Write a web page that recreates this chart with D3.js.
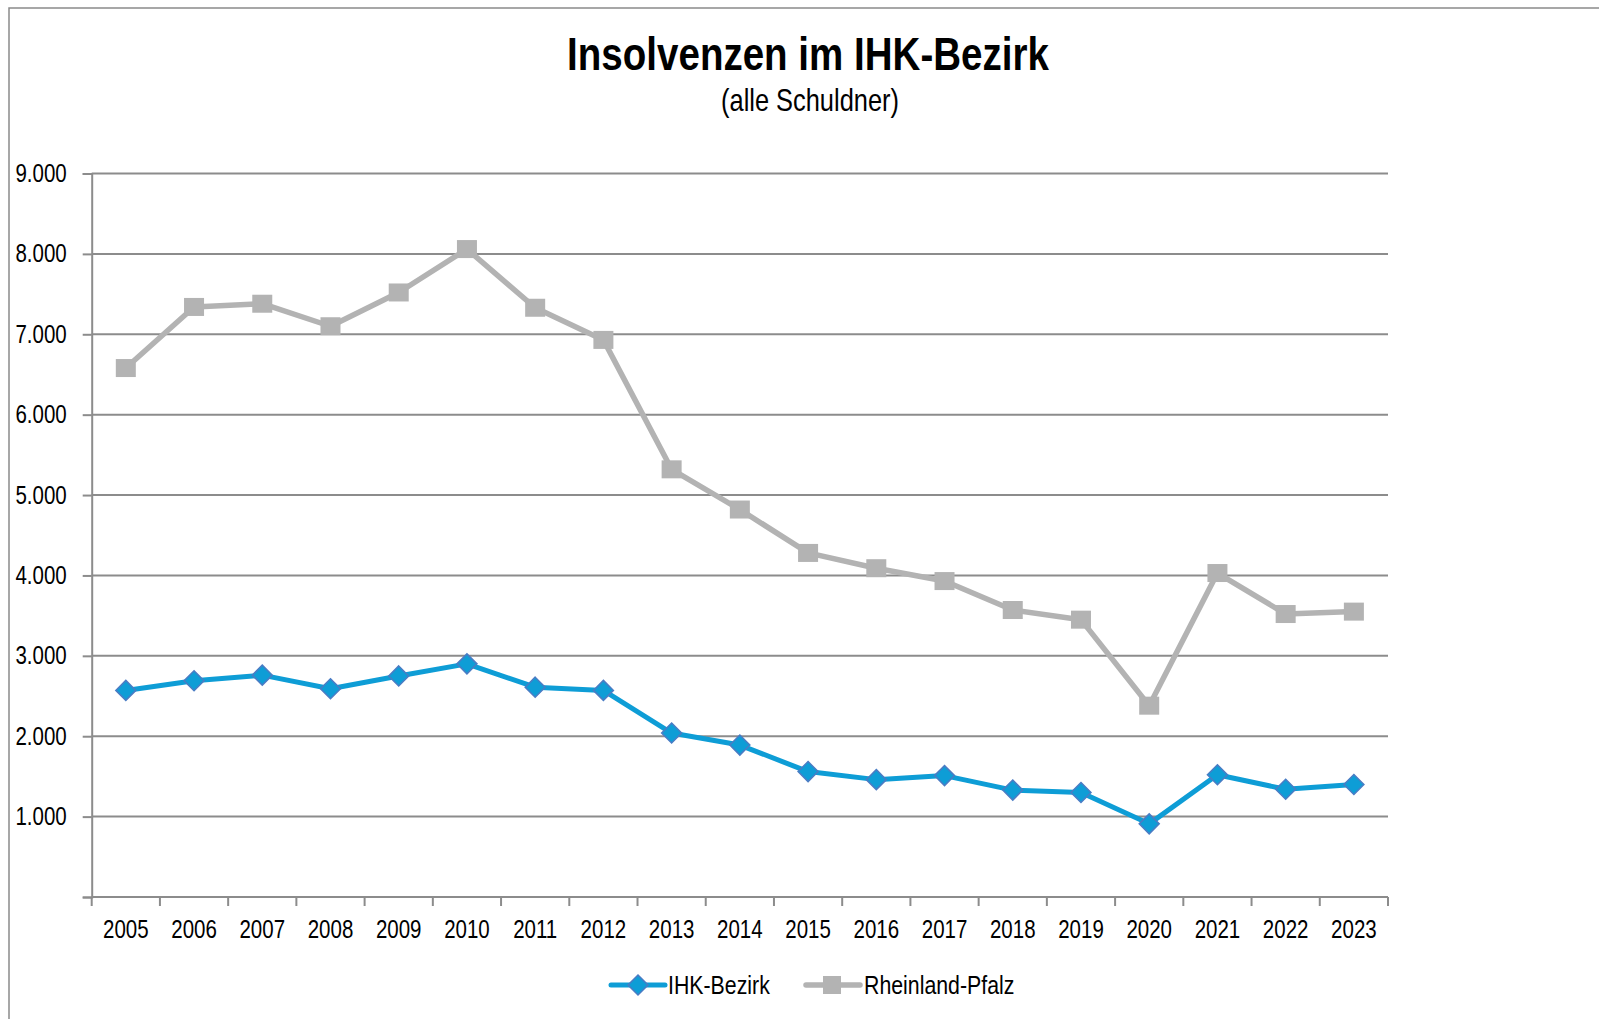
<!DOCTYPE html>
<html>
<head>
<meta charset="utf-8">
<script src="https://cdn.jsdelivr.net/npm/d3@7"></script>
<style>
  html, body { margin: 0; padding: 0; background: #fff; }
  svg { display: block; }
  text { font-family: 'Liberation Sans', Arial, sans-serif; fill: #000; }
</style>
</head>
<body>
<svg id="chart" width="1599" height="1019"></svg>
<script>
const years = ["2005","2006","2007","2008","2009","2010","2011","2012","2013","2014","2015","2016","2017","2018","2019","2020","2021","2022","2023"];
const ihkBezirk = [2570, 2690, 2760, 2590, 2750, 2900, 2610, 2570, 2040, 1890, 1560, 1460, 1510, 1330, 1300, 910, 1520, 1340, 1400];
const rheinlandPfalz = [6580, 7340, 7380, 7100, 7520, 8060, 7330, 6930, 5320, 4820, 4280, 4090, 3930, 3570, 3450, 2380, 4030, 3520, 3550];
const yTicks = [0, 1000, 2000, 3000, 4000, 5000, 6000, 7000, 8000, 9000];
const seriesNames = ["IHK-Bezirk", "Rheinland-Pfalz"];
const titleText = "Insolvenzen im IHK-Bezirk";
const subtitleText = "(alle Schuldner)";

const svg = d3.select("#chart");
const pLeft = 91.7, pRight = 1388, pTop = 173.5, pBottom = 897;
const NX = 0.82; // narrow (condensed) horizontal factor

const x = d3.scaleBand().domain(years).range([pLeft, pRight]).paddingInner(0).paddingOuter(0);
const y = d3.scaleLinear().domain([0, 9000]).range([pBottom, pTop]);

// place a text element at (px,py) and condense it horizontally
function place(sel, px, py) {
  return sel.attr("x", 0).attr("y", 0).attr("transform", `translate(${px},${py}) scale(${NX},1)`);
}

// outer frame
svg.append("path").attr("d", `M9,1019 V8 H1599`).attr("fill", "none").attr("stroke", "#8a8a8a").attr("stroke-width", 1.5);

// title
place(svg.append("text"), 808, 69.5).attr("text-anchor", "middle")
  .attr("font-size", 47).attr("font-weight", "bold").text(titleText);
place(svg.append("text"), 810, 111).attr("text-anchor", "middle")
  .attr("font-size", 31).text(subtitleText);

// gridlines
const fmt = v => v === 0 ? "" : d3.format(",")(v).replace(/,/g, ".");
svg.append("g").selectAll("line").data(yTicks.filter(d => d > 0)).join("line")
  .attr("x1", pLeft).attr("x2", pRight).attr("y1", d => y(d)).attr("y2", d => y(d))
  .attr("stroke", "#8c8c8c").attr("stroke-width", 2);

// y axis
const yAxis = d3.axisLeft(y).tickValues(yTicks).tickSize(9).tickPadding(16).tickFormat(fmt);
const gy = svg.append("g").attr("transform", `translate(${pLeft},0)`).call(yAxis);
gy.select(".domain").attr("stroke", "#8c8c8c").attr("stroke-width", 2);
gy.selectAll(".tick line").attr("stroke", "#8c8c8c").attr("stroke-width", 2);
gy.selectAll(".tick text").attr("font-size", 25).attr("fill", "#000")
  .attr("font-family", "'Liberation Sans', Arial, sans-serif")
  .each(function () {
    const xx = +this.getAttribute("x");
    d3.select(this).attr("x", 0).attr("transform", `translate(${xx},0) scale(${NX},1)`);
  });

// x axis (ticks at band boundaries)
const gx = svg.append("g").attr("transform", `translate(0,${pBottom})`);
gx.append("line").attr("x1", pLeft).attr("x2", pRight).attr("y1", 0).attr("y2", 0)
  .attr("stroke", "#8c8c8c").attr("stroke-width", 2);
const edges = years.map(d => x(d)).concat([x(years[years.length-1]) + x.bandwidth()]);
gx.selectAll("line.tk").data(edges).join("line").attr("class", "tk")
  .attr("x1", d => d).attr("x2", d => d).attr("y1", 0).attr("y2", 9)
  .attr("stroke", "#8c8c8c").attr("stroke-width", 2);
gx.selectAll("text").data(years).join("text")
  .attr("transform", d => `translate(${x(d) + x.bandwidth() / 2},41) scale(${NX},1)`)
  .attr("text-anchor", "middle").attr("font-size", 25).text(d => d);

const cx = d => x(d) + x.bandwidth() / 2;
const line = d3.line().x((d, i) => cx(years[i])).y(d => y(d));

// Rheinland-Pfalz series
const grayC = "#b3b3b3";
svg.append("path").datum(rheinlandPfalz).attr("d", line).attr("fill", "none")
  .attr("stroke", grayC).attr("stroke-width", 5.5).attr("stroke-linejoin", "round");
svg.append("g").selectAll("rect").data(rheinlandPfalz).join("rect")
  .attr("x", (d, i) => cx(years[i]) - 10).attr("y", d => y(d) - 9)
  .attr("width", 20).attr("height", 18).attr("fill", grayC);

// IHK-Bezirk series
const blueC = "#0e9dd6";
const diamond = (px, py) => `M${px},${py-10} L${px+10},${py} L${px},${py+10} L${px-10},${py} Z`;
svg.append("path").datum(ihkBezirk).attr("d", line).attr("fill", "none")
  .attr("stroke", blueC).attr("stroke-width", 5).attr("stroke-linejoin", "round");
svg.append("g").selectAll("path").data(ihkBezirk).join("path")
  .attr("d", (d, i) => diamond(cx(years[i]), y(d)))
  .attr("fill", blueC).attr("stroke", "#4a7cc4").attr("stroke-width", 1.5);

// legend
const ly = 985;
const lg = svg.append("g");
lg.append("line").attr("x1", 611).attr("x2", 665).attr("y1", ly).attr("y2", ly)
  .attr("stroke", blueC).attr("stroke-width", 5).attr("stroke-linecap", "round");
lg.append("path").attr("d", diamond(638, ly)).attr("fill", blueC).attr("stroke", "#4a7cc4").attr("stroke-width", 1.5);
place(lg.append("text"), 668, ly + 9).attr("font-size", 26).text(seriesNames[0]);
lg.append("line").attr("x1", 806).attr("x2", 860).attr("y1", ly).attr("y2", ly)
  .attr("stroke", grayC).attr("stroke-width", 5.5).attr("stroke-linecap", "round");
lg.append("rect").attr("x", 823).attr("y", ly - 9).attr("width", 18).attr("height", 18).attr("fill", grayC);
place(lg.append("text"), 864, ly + 9).attr("font-size", 26).text(seriesNames[1]);
</script>
</body>
</html>
